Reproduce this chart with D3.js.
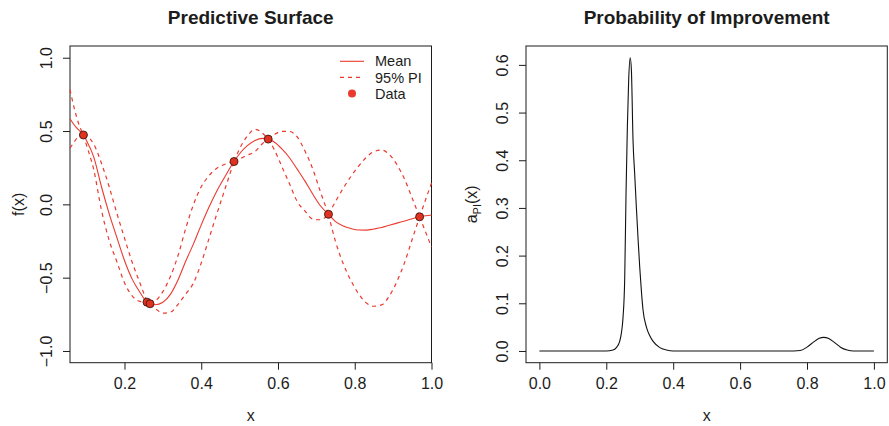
<!DOCTYPE html>
<html lang="en">
<head>
<meta charset="utf-8">
<title>Predictive Surface / Probability of Improvement</title>
<script src="https://cdn.jsdelivr.net/npm/d3@7"></script>
<style>
  html, body { margin: 0; padding: 0; background: #fff; }
  svg { display: block; font-family: "Liberation Sans", Arial, Helvetica, sans-serif; }
</style>
</head>
<body>
<div id="chart"></div>
<script>
// 左パネル：予測面（グリッド上の平均と95%予測区間）
const gridX = [0.058, 0.07, 0.08, 0.093, 0.10, 0.12, 0.14, 0.16, 0.18, 0.20,
  0.22, 0.24, 0.2586, 0.2665, 0.28, 0.30, 0.32, 0.34, 0.36, 0.38,
  0.40, 0.42, 0.44, 0.46, 0.4854, 0.50, 0.52, 0.54, 0.56, 0.5744,
  0.59, 0.61, 0.63, 0.65, 0.67, 0.69, 0.71, 0.7315, 0.75, 0.77,
  0.79, 0.81, 0.83, 0.85, 0.87, 0.89, 0.91, 0.93, 0.95, 0.969,
  0.985, 1.0];
const meanY = [0.584, 0.538, 0.509, 0.473, 0.44, 0.322, 0.12, -0.063, -0.225, -0.383,
  -0.51, -0.599, -0.667, -0.678, -0.685, -0.668, -0.612, -0.512, -0.385, -0.268,
  -0.14, -0.02, 0.088, 0.181, 0.292, 0.345, 0.40, 0.436, 0.45, 0.445,
  0.425, 0.378, 0.318, 0.24, 0.16, 0.072, -0.008, -0.068, -0.118, -0.148,
  -0.165, -0.175, -0.176, -0.168, -0.158, -0.143, -0.128, -0.113, -0.098, -0.085,
  -0.078, -0.073];
const upperY = [0.783, 0.646, 0.555, 0.473, 0.468, 0.41, 0.28, 0.12, -0.06, -0.23,
  -0.395, -0.535, -0.664, -0.676, -0.66, -0.595, -0.49, -0.345, -0.16, 0.0,
  0.12, 0.195, 0.245, 0.272, 0.292, 0.38, 0.465, 0.512, 0.485, 0.445,
  0.475, 0.498, 0.497, 0.46, 0.365, 0.245, 0.09, -0.068, 0.02, 0.11,
  0.19, 0.26, 0.32, 0.36, 0.37, 0.34, 0.27, 0.17, 0.04, -0.085,
  0.035, 0.145];
const lowerY = [0.383, 0.43, 0.462, 0.473, 0.412, 0.235, -0.04, -0.245, -0.39, -0.535,
  -0.625, -0.662, -0.669, -0.68, -0.71, -0.742, -0.735, -0.68, -0.61, -0.535,
  -0.40, -0.235, -0.07, 0.09, 0.292, 0.31, 0.335, 0.36, 0.415, 0.445,
  0.375, 0.258, 0.14, 0.02, -0.045, -0.10, -0.105, -0.068, -0.255, -0.405,
  -0.52, -0.61, -0.672, -0.695, -0.686, -0.626, -0.526, -0.396, -0.236, -0.085,
  -0.191, -0.291];

// 観測データ
const dataX = [0.093, 0.2586, 0.2665, 0.4854, 0.5744, 0.7315, 0.969];
const dataY = [0.473, -0.667, -0.678, 0.292, 0.445, -0.068, -0.085];

// 右パネル：改善確率 a_PI(x)
const piX = [0, 0.1, 0.2, 0.22, 0.23, 0.24, 0.245, 0.25, 0.255, 0.259,
  0.263, 0.267, 0.2715, 0.275, 0.28, 0.285, 0.29, 0.295, 0.30, 0.305,
  0.31, 0.32, 0.33, 0.34, 0.36, 0.38, 0.40, 0.5, 0.6, 0.7,
  0.76, 0.78, 0.80, 0.82, 0.835, 0.85, 0.865, 0.88, 0.90, 0.92,
  0.94, 1.0];
const piY = [0, 0, 0, 0.002, 0.007, 0.02, 0.037, 0.07, 0.15, 0.33,
  0.47, 0.57, 0.615, 0.59, 0.44, 0.37, 0.30, 0.235, 0.175, 0.125,
  0.085, 0.05, 0.032, 0.02, 0.007, 0.002, 0, 0, 0, 0,
  0, 0.001, 0.008, 0.019, 0.026, 0.0285, 0.026, 0.019, 0.008, 0.002,
  0, 0];

// 目盛りラベル
const surfaceXTicks = [0.2, 0.4, 0.6, 0.8, 1.0];
const surfaceYTicks = [-1.0, -0.5, 0.0, 0.5, 1.0];
const piXTicks = [0.0, 0.2, 0.4, 0.6, 0.8, 1.0];
const piYTicks = [0.0, 0.1, 0.2, 0.3, 0.4, 0.5, 0.6];
const legendLabels = ['Mean', '95% PI', 'Data'];

const width = 889;
const height = 426;
const red = '#ea3a2e';
const ink = '#1c1c1c';
const fmt = d3.format('.1f');

const svg = d3.select('#chart')
  .append('svg')
  .attr('width', width)
  .attr('height', height);

svg.append('rect')
  .attr('width', width)
  .attr('height', height)
  .attr('fill', '#fff');

// パネルの枠・軸・タイトルを描く
function drawFrame(x, y, xTicks, yTicks, title) {
  const [x0, x1] = x.range();
  const [y0, y1] = y.range(); // y0 が下端
  const g = svg.append('g');

  // X軸（ボックスは別に描くので domain は消す）
  g.append('g')
    .attr('transform', `translate(0,${y0})`)
    .call(d3.axisBottom(x).tickValues(xTicks).tickFormat(fmt).tickSize(7).tickSizeOuter(0).tickPadding(8))
    .call(a => a.select('.domain').remove())
    .call(a => a.selectAll('line').attr('stroke', ink))
    .call(a => a.selectAll('text').attr('fill', ink).style('font-size', '16px'));

  // Y軸：ラベルは軸に平行（縦書き）
  g.append('g')
    .attr('transform', `translate(${x0},0)`)
    .call(d3.axisLeft(y).tickValues(yTicks).tickFormat(fmt).tickSize(7).tickSizeOuter(0))
    .call(a => a.select('.domain').remove())
    .call(a => a.selectAll('line').attr('stroke', ink))
    .call(a => a.selectAll('text')
      .attr('x', null).attr('dy', null)
      .attr('text-anchor', 'middle')
      .attr('transform', 'translate(-18,0) rotate(-90)')
      .attr('fill', ink)
      .style('font-size', '16px'));

  // 枠
  g.append('rect')
    .attr('x', x0)
    .attr('y', y1)
    .attr('width', x1 - x0)
    .attr('height', y0 - y1)
    .attr('fill', 'none')
    .attr('stroke', ink)
    .attr('stroke-width', 1);

  // タイトル
  g.append('text')
    .attr('x', (x0 + x1) / 2)
    .attr('y', 24)
    .attr('text-anchor', 'middle')
    .attr('font-weight', 'bold')
    .style('font-size', '19px')
    .attr('fill', ink)
    .text(title);

  // X軸ラベル
  g.append('text')
    .attr('x', (x0 + x1) / 2)
    .attr('y', 421)
    .attr('text-anchor', 'middle')
    .style('font-size', '16px')
    .attr('fill', ink)
    .text('x');

  return g;
}

// データ点で折れる区間ごとに曲線をつなぐ
function bandPath(xs, ys, x, y, breaks) {
  const line = d3.line()
    .x(d => x(d[0]))
    .y(d => y(d[1]))
    .curve(d3.curveMonotoneX);
  const pts = xs.map((v, i) => [v, ys[i]]);
  let path = '';
  let start = 0;
  xs.forEach((v, i) => {
    if (i > 0 && (breaks.includes(v) || i === xs.length - 1)) {
      path += line(pts.slice(start, i + 1));
      start = i;
    }
  });
  return path;
}

// ---- 左：Predictive Surface ----
const xL = d3.scaleLinear().domain([gridX[0], gridX[gridX.length - 1]]).range([70, 431.5]);
const yL = d3.scaleLinear().domain([-1.08, 1.08]).range([362.7, 46]);
const left = drawFrame(xL, yL, surfaceXTicks, surfaceYTicks, 'Predictive Surface');

left.append('text')
  .attr('transform', `translate(24,${yL(0)}) rotate(-90)`)
  .attr('text-anchor', 'middle')
  .style('font-size', '16px')
  .attr('fill', ink)
  .text('f(x)');

const meanLine = d3.line()
  .x((d, i) => xL(gridX[i]))
  .y(d => yL(d))
  .curve(d3.curveMonotoneX);

[upperY, lowerY].forEach(band => {
  left.append('path')
    .attr('d', bandPath(gridX, band, xL, yL, dataX))
    .attr('fill', 'none')
    .attr('stroke', red)
    .attr('stroke-width', 1.2)
    .attr('stroke-dasharray', '4,4');
});

left.append('path')
  .datum(meanY)
  .attr('d', meanLine)
  .attr('fill', 'none')
  .attr('stroke', red)
  .attr('stroke-width', 1.1);

left.selectAll('circle.pt')
  .data(dataX)
  .enter()
  .append('circle')
  .attr('class', 'pt')
  .attr('cx', d => xL(d))
  .attr('cy', (d, i) => yL(dataY[i]))
  .attr('r', 4)
  .attr('fill', '#e2321f')
  .attr('stroke', '#3b1a14')
  .attr('stroke-width', 0.9);

// 凡例（bty = "n" なので枠なし）
const legend = left.append('g');
const legendRows = [66.3, 82.5, 98.7];
legend.append('line')
  .attr('x1', 340).attr('x2', 364)
  .attr('y1', 61.3).attr('y2', 61.3)
  .attr('stroke', red).attr('stroke-width', 1.1);
legend.append('line')
  .attr('x1', 340).attr('x2', 364)
  .attr('y1', 77.3).attr('y2', 77.3)
  .attr('stroke', red).attr('stroke-width', 1.2)
  .attr('stroke-dasharray', '4,4');
legend.append('circle')
  .attr('cx', 352).attr('cy', 93.5).attr('r', 4)
  .attr('fill', red);
legend.selectAll('text')
  .data(legendLabels)
  .enter()
  .append('text')
  .attr('x', 375)
  .attr('y', (d, i) => legendRows[i])
  .style('font-size', '14.5px')
  .attr('fill', ink)
  .text(d => d);

// ---- 右：Probability of Improvement ----
const piMax = d3.max(piY);
const piPad = piMax * 0.04;
const xR = d3.scaleLinear().domain([-0.04, 1.04]).range([526, 887.3]);
const yR = d3.scaleLinear().domain([-piPad, piMax + piPad]).range([362.7, 46]);
const right = drawFrame(xR, yR, piXTicks, piYTicks, 'Probability of Improvement');

const yLab = right.append('text')
  .attr('transform', `translate(477,${(yR.range()[0] + yR.range()[1]) / 2}) rotate(-90)`)
  .attr('text-anchor', 'middle')
  .style('font-size', '16px')
  .attr('fill', ink);
yLab.append('tspan').text('a');
yLab.append('tspan').attr('dy', 4).style('font-size', '11px').text('PI');
yLab.append('tspan').attr('dy', -4).text('(x)');

right.append('path')
  .datum(piY)
  .attr('d', d3.line()
    .x((d, i) => xR(piX[i]))
    .y(d => yR(d))
    .curve(d3.curveMonotoneX))
  .attr('fill', 'none')
  .attr('stroke', '#111')
  .attr('stroke-width', 1.1);
</script>
</body>
</html>
